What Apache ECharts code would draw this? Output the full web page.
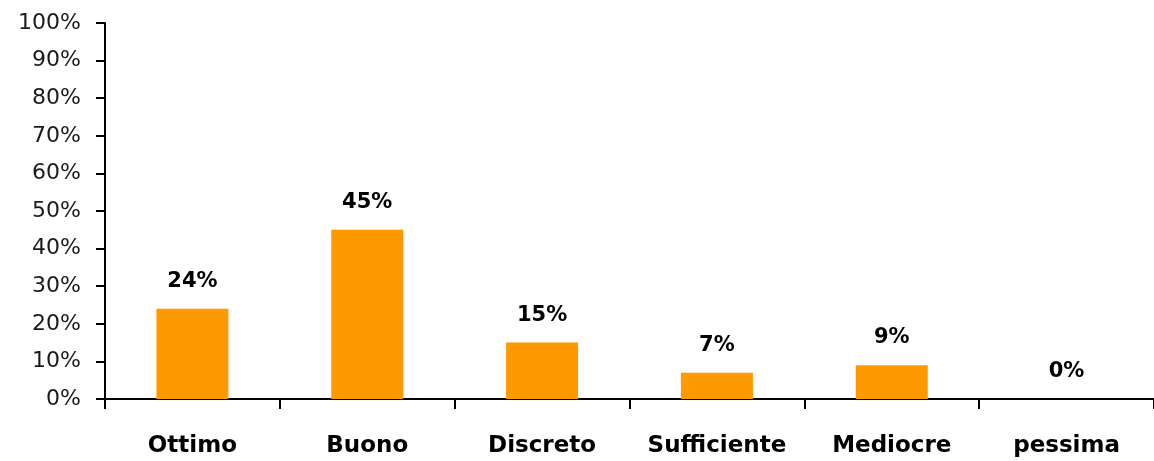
<!DOCTYPE html>
<html>
<head>
<meta charset="utf-8">
<style>
  html, body { margin: 0; padding: 0; background: #ffffff; }
  #chart { width: 1154px; height: 461px; }
</style>
<script src="https://cdn.jsdelivr.net/npm/echarts@6/dist/echarts.min.js"></script>
</head>
<body>
<div id="chart"></div>
<script>
// Giudizio complessivo: quota di risposte per categoria (%)
const categories = ['Ottimo', 'Buono', 'Discreto', 'Sufficiente', 'Mediocre', 'pessima'];
const values = [24, 45, 15, 7, 9, 0];
const yTicks = { min: 0, max: 100, step: 10 };

const chart = echarts.init(document.getElementById('chart'), null, { renderer: 'canvas' });

chart.setOption({
  backgroundColor: '#ffffff',
  animation: false,
  grid: { left: 105, right: -3, top: 23, bottom: 62, containLabel: false },
  xAxis: {
    type: 'category',
    data: categories,
    boundaryGap: true,
    axisLine: { lineStyle: { color: '#000000', width: 2 } },
    axisTick: { show: true, interval: 0, length: 10, lineStyle: { color: '#000000', width: 2 } },
    axisLabel: {
      interval: 0,
      margin: 36,
      color: '#000000',
      fontFamily: 'DejaVu Sans',
      fontWeight: 'bold',
      fontSize: 23
    },
    splitLine: { show: false }
  },
  yAxis: {
    type: 'value',
    min: yTicks.min,
    max: yTicks.max,
    interval: yTicks.step,
    axisLine: { show: true, lineStyle: { color: '#000000', width: 2 } },
    axisTick: { show: true, length: 9, lineStyle: { color: '#000000', width: 2 } },
    axisLabel: {
      margin: 24,
      color: '#1a1a1a',
      fontFamily: 'DejaVu Sans',
      fontSize: 22,
      formatter: '{value}%'
    },
    splitLine: { show: false }
  },
  series: [{
    type: 'bar',
    data: values,
    barWidth: 72,
    itemStyle: { color: '#FF9900' },
    label: {
      show: true,
      position: 'top',
      distance: 17,
      color: '#000000',
      fontFamily: 'DejaVu Sans',
      fontWeight: 'bold',
      fontSize: 21,
      formatter: '{c}%'
    }
  }]
});
</script>
</body>
</html>
